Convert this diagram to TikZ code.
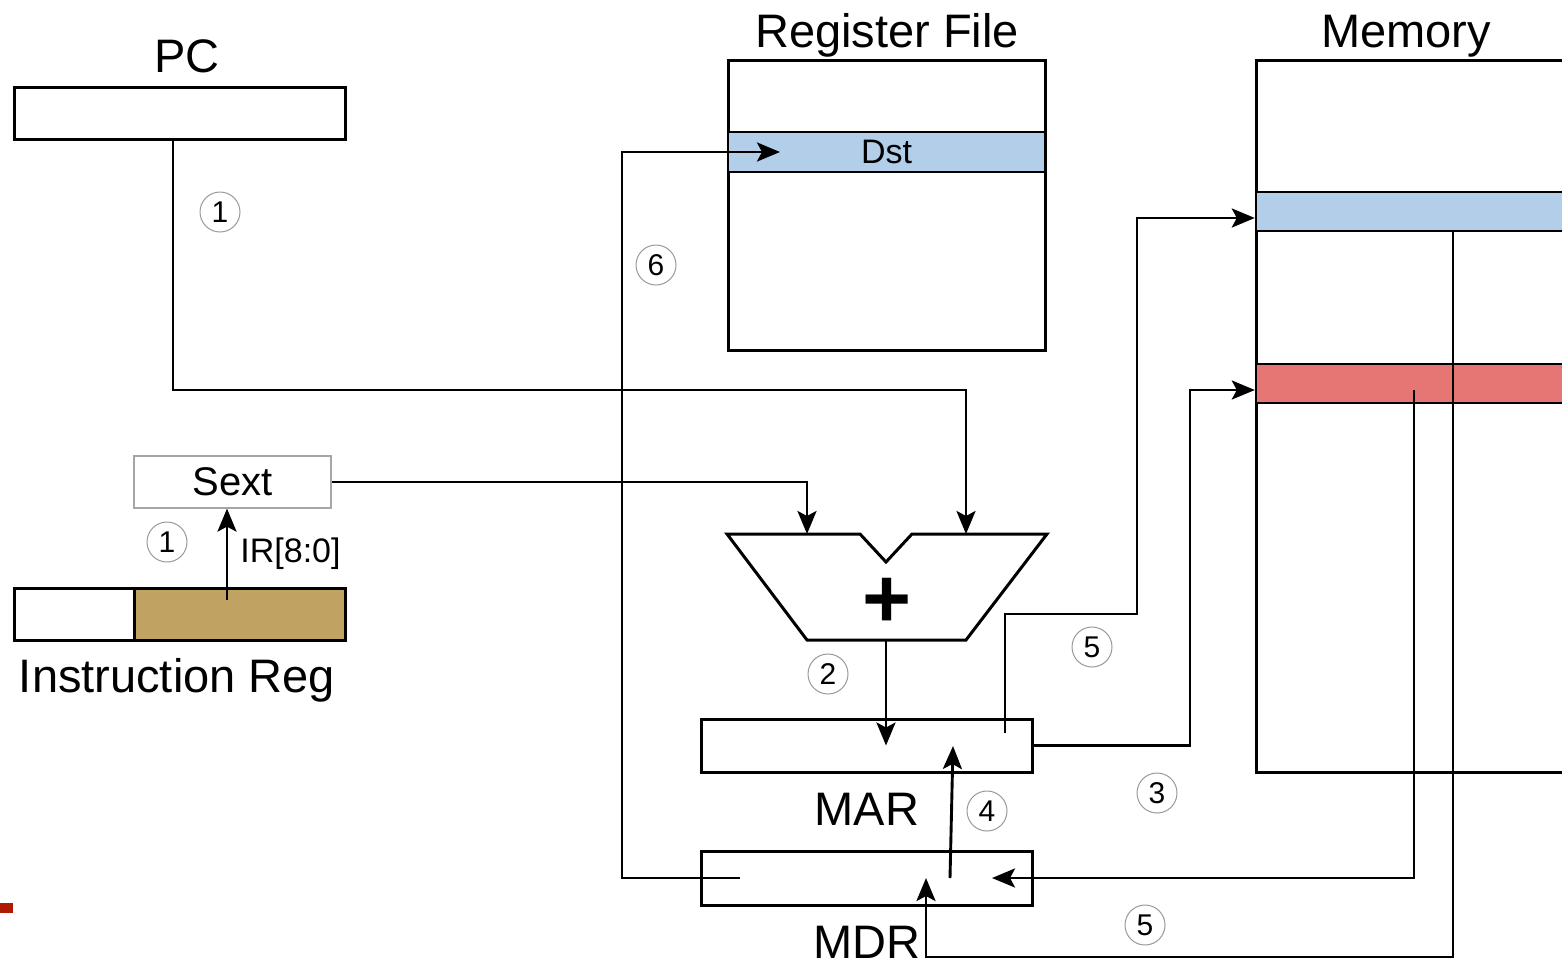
\documentclass[tikz,border=0pt]{standalone}
\usepackage{fontspec}
\setmainfont{Liberation Sans}
\usetikzlibrary{arrows.meta, positioning, calc}
\definecolor{rowblue}{RGB}{178,206,232}
\definecolor{rowred}{RGB}{229,118,115}
\definecolor{irtan}{RGB}{192,162,99}
\definecolor{slidered}{RGB}{176,24,0}
\tikzset{%
	reg/.style={draw, rectangle, line width=1.5pt, inner sep=0mm},
	row/.style={draw, rectangle, line width=1.2pt, inner sep=0mm},
	title/.style={anchor=base, inner sep=0mm, font=\fontsize{23.5}{28}\selectfont},
	stepnum/.style={draw=gray!80, circle, line width=0.5pt, minimum size=20pt,%
		inner sep=0mm, font=\fontsize{15}{18}\selectfont},
	sextbox/.style={draw=gray!70, rectangle, line width=0.6pt, minimum width=98.5pt,%
		minimum height=26pt, inner sep=0mm, font=\fontsize{20}{24}\selectfont},
	sel/.style={-{Stealth[length=11.5pt, width=9.5pt, inset=2.5pt]}, line width=1.45pt}
}

\begin{document}
\begin{tikzpicture}[x=0.5pt, y=-0.5pt]
	\useasboundingbox (0,0) rectangle (1562,959);
	%registers
	\node [reg, minimum width=165.5pt, minimum height=26pt] (pc) at (179.5,113) {};
	\node [title] (pclabel) at (187,72) {PC};
	\node [reg, minimum width=158.5pt, minimum height=145pt] (rf) at (886.5,205) {};
	\node [row, fill=rowblue, minimum width=158.5pt, minimum height=20pt,%
		font=\fontsize{17}{20}\selectfont] (dst) at (886.5,152) {Dst};
	\node [title] (rflabel) at (887,47) {Register File};
	\node [reg, minimum width=172pt, minimum height=356pt] (mem) at (1428,416) {};
	\node [row, fill=rowblue, minimum width=172pt, minimum height=19.5pt] (memA) at (1428,211.5) {};
	\node [row, fill=rowred, minimum width=172pt, minimum height=19.5pt] (memB) at (1428,383.5) {};
	\node [title] (memlabel) at (1406,47) {Memory};
	\node [sextbox] (sext) at (232.5,482) {Sext};
	\node [reg, minimum width=60pt, minimum height=26pt] (irA) at (74,614) {};
	\node [reg, fill=irtan, minimum width=105.5pt, minimum height=26pt] (irB) at (239.5,614) {};
	\node [title] (irlabel) at (177,692) {Instruction Reg};
	\node [anchor=base west, inner sep=0mm, font=\fontsize{17}{20}\selectfont] (irbits) at (240,562) {IR[8:0]};
	\node [reg, minimum width=165.5pt, minimum height=26.5pt] (mar) at (866.5,745.5) {};
	\node [title] (marlabel) at (867,825) {MAR};
	\node [reg, minimum width=165.5pt, minimum height=27pt] (mdr) at (866.5,878) {};
	\node [title] (mdrlabel) at (867,958) {MDR};

	%adder
	\draw [line width=1.5pt] (727,534) -- (860,534) -- (886,562) -- (912,534) -- (1047,534)
		-- (966,640) -- (807,640) -- cycle;
	\node [inner sep=0mm, font=\bfseries\fontsize{42}{42}\selectfont] (add) at (887,603) {+};
	\coordinate (addL) at (807,534);
	\coordinate (addR) at (966,534);
	\coordinate (addO) at (886,640);

	%taps
	\coordinate (pcbus) at (966,390);
	\coordinate (irtap) at (227,600);
	\coordinate (mdrout) at (740,878);
	\coordinate (dstin) at (780,152);
	\coordinate (marup) at (1005,733);
	\coordinate (redtap) at (1414,390);
	\coordinate (mdrin) at (992,878);
	\coordinate (bluetap) at (1453,231);
	\coordinate (mdrlow) at (926,878);
	\coordinate (mdrup) at (950,878);
	\coordinate (marin) at (953,746);

	%paths
	\draw [sel] ([xshift=-3.25pt]pc.south) |- (pcbus) -- (addR);
	\draw [sel] (sext.east) -| (addL);
	\draw [sel] (irtap) -- (irtap |- sext.south);
	\draw [sel] (addO) -- (addO |- mar.center);
	\draw [sel] (mdrout) -| (622,500) |- (dstin);
	\draw [sel] (marup) |- (1137,614) |- ([yshift=-3.25pt]memA.west);
	\draw [sel] (mar.east) -| (1190,500) |- ([yshift=-3.25pt]memB.west);
	\draw [sel] (redtap) |- (mdrin);
	\draw [sel] (bluetap) |- (926,957) -- (mdrlow);
	\draw [sel] (mdrup) -- (marin);

	%steps
	\node [stepnum] (s1a) at (220,212) {1};
	\node [stepnum] (s6) at (656,265) {6};
	\node [stepnum] (s1b) at (167,542) {1};
	\node [stepnum] (s2) at (828,674) {2};
	\node [stepnum] (s5a) at (1092,647) {5};
	\node [stepnum] (s4) at (987,811) {4};
	\node [stepnum] (s3) at (1157,793) {3};
	\node [stepnum] (s5b) at (1145,925) {5};

	\fill [slidered] (0,903) rectangle (13,913);
\end{tikzpicture}
\end{document}
